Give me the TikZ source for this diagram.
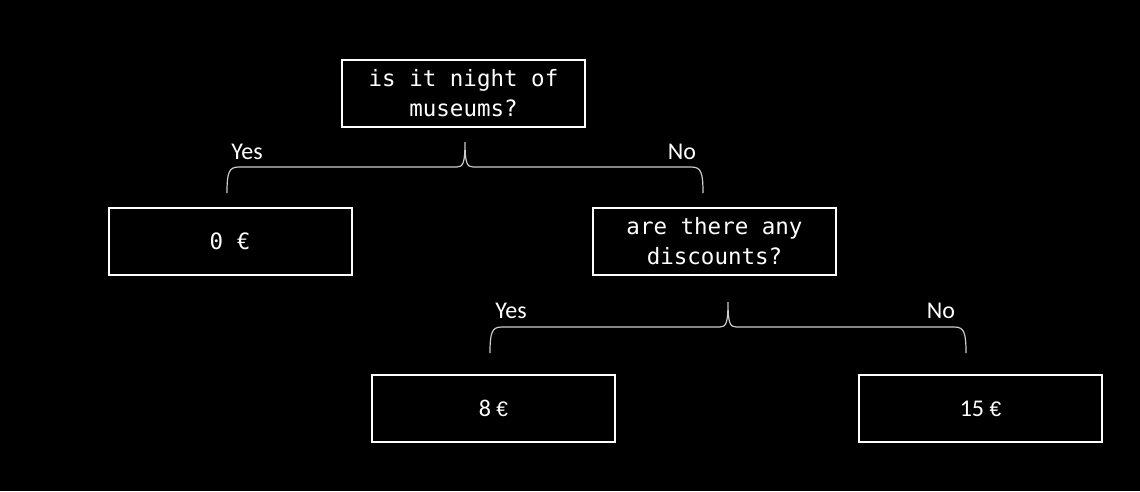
\documentclass[tikz,border=0pt]{standalone}
\usepackage{fontspec}
\newfontfamily\codefont{DejaVu Sans Mono}
\newfontfamily\labelfont{Carlito}
\newfontfamily\eurofont{Liberation Sans}
\newcommand\priceeuro{{\eurofont\fontsize{21}{28}\selectfont €}}
\usetikzlibrary{positioning}

\tikzset{
  choicebox/.style={draw=white, line width=2pt, minimum width=243pt, minimum height=67pt,
    inner sep=0pt, text=white, align=center},
  askbox/.style={choicebox, font=\codefont\fontsize{22.5}{30}\selectfont},
  pricebox/.style={choicebox, font=\labelfont\fontsize{24}{28}\selectfont},
  answer/.style={text=white, inner sep=0pt, font=\labelfont\fontsize{24}{28}\selectfont},
  choicebrace/.pic={
    \draw[draw=black!20, line width=1.2pt]
      (-238,26) .. controls (-238,5) and (-236,0) .. (-226,0) -- (-8,0)
      .. controls (-2,0) and (0,-4) .. (0,-25)
      .. controls (0,-4) and (2,0) .. (8,0) -- (226,0)
      .. controls (236,0) and (238,5) .. (238,26);
  }
}

\begin{document}
\begin{tikzpicture}[x=1pt, y=-1pt]
  \fill[black] (0,0) rectangle (1140,491);
  \useasboundingbox (0,0) rectangle (1140,491);

  % first question
  \node[askbox] (night) at (463.5,93) {is it night of\\museums?};
  \coordinate (fork1) at (465,167);
  \pic at (fork1) {choicebrace};
  \node[answer] (yes1) at (247,152) {Yes};
  \node[answer] (no1) at (682,152) {No};
  \node[askbox] (free) at (230,241.5) {0 €};
  \node[askbox] (discount) at (714.5,241.5) {are there any\\discounts?};

  % second question
  \coordinate (fork2) at (728,327);
  \pic at (fork2) {choicebrace};
  \node[answer] (yes2) at (511,311) {Yes};
  \node[answer] (no2) at (941,311) {No};
  \node[pricebox] (reduced) at (493.5,408.5) {8 \priceeuro};
  \node[pricebox] (full) at (980.5,408.5) {15 \priceeuro};
\end{tikzpicture}
\end{document}
